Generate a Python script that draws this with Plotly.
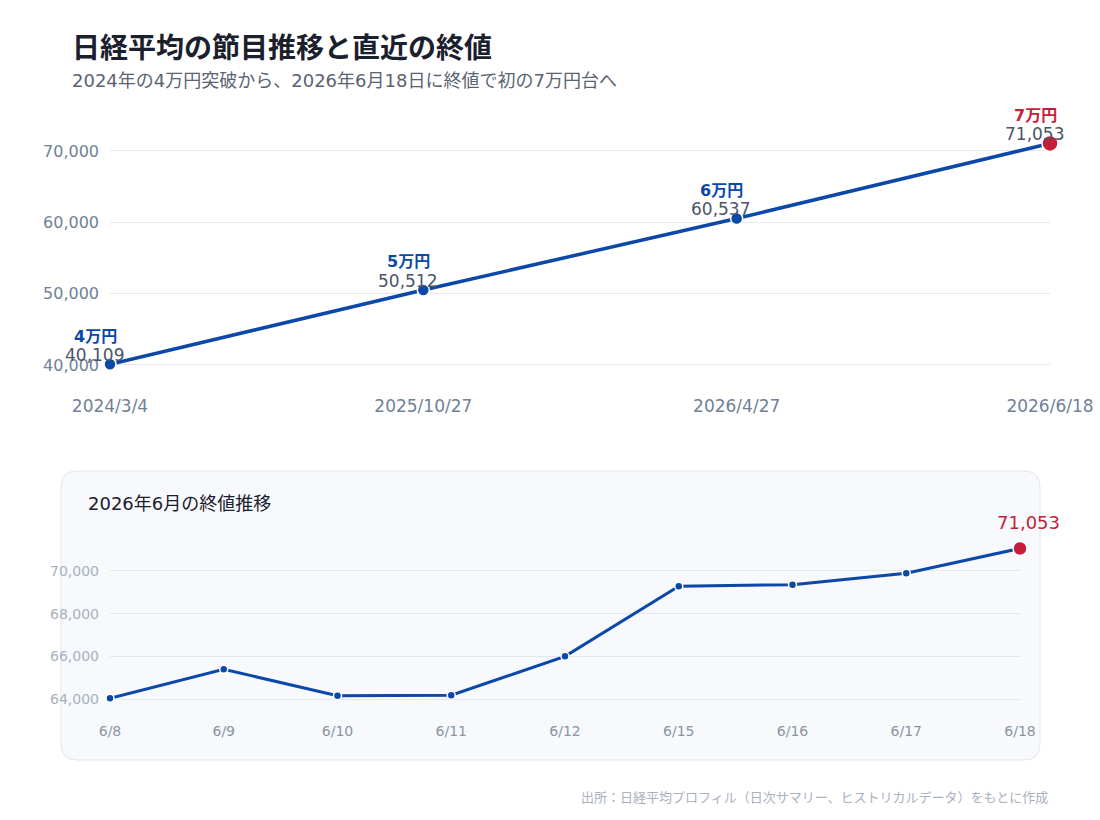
import plotly.graph_objects as go

# ---- data ----
milestone_dates = ["2024/3/4", "2025/10/27", "2026/4/27", "2026/6/18"]
milestone_values = [40109, 50512, 60537, 71053]
milestone_labels = ["4万円", "5万円", "6万円", "7万円"]

june_dates = ["6/8", "6/9", "6/10", "6/11", "6/12", "6/15", "6/16", "6/17", "6/18"]
june_values = [64047, 65400, 64170, 64190, 66010, 69285, 69360, 69890, 71053]

top_ticks = [40000, 50000, 60000, 70000]
bottom_ticks = [64000, 66000, 68000, 70000]

W, H = 1100, 820
BLUE = "#0b48a8"
RED = "#c41e3a"
FONT = "DejaVu Sans, Noto Sans CJK JP"


def px(x):
    return x / W


def py(y):
    return 1 - y / H


fig = go.Figure()

n_top = len(milestone_values)
top_colors = [BLUE] * (n_top - 1) + [RED]
top_sizes = [12] * (n_top - 1) + [16]

fig.add_trace(go.Scatter(
    x=milestone_dates, y=milestone_values, mode="lines+markers",
    line=dict(color=BLUE, width=3.5),
    marker=dict(color=top_colors, size=top_sizes, opacity=1, line=dict(color="white", width=1.5)),
    cliponaxis=False, hoverinfo="skip", xaxis="x", yaxis="y", showlegend=False,
))

n_b = len(june_values)
b_colors = [BLUE] * (n_b - 1) + [RED]
b_sizes = [8] * (n_b - 1) + [14]
fig.add_trace(go.Scatter(
    x=june_dates, y=june_values, mode="lines+markers",
    line=dict(color=BLUE, width=3),
    marker=dict(color=b_colors, size=b_sizes, opacity=1, line=dict(color="white", width=1.5)),
    cliponaxis=False, hoverinfo="skip", xaxis="x2", yaxis="y2", showlegend=False,
))

annotations = []
# milestone labels
for i, (d, v, lab) in enumerate(zip(milestone_dates, milestone_values, milestone_labels)):
    col = RED if i == n_top - 1 else BLUE
    annotations.append(dict(x=d, y=v, xref="x", yref="y", text=f"<b>{lab}</b>",
                            showarrow=False, xshift=-15, yshift=28, yanchor="middle",
                            font=dict(size=16, color=col, family=FONT)))
    annotations.append(dict(x=d, y=v, xref="x", yref="y", text=f"{v:,}",
                            showarrow=False, xshift=-16, yshift=9, yanchor="middle",
                            font=dict(size=17, color="#4a5568", family=FONT)))

annotations.append(dict(x=june_dates[-1], y=june_values[-1], xref="x2", yref="y2",
                        text=f"{june_values[-1]:,}", showarrow=False, xshift=8, yshift=26,
                        yanchor="middle", font=dict(size=18, color=RED, family=FONT)))

annotations += [
    dict(x=px(70), y=py(48), xref="paper", yref="paper", xanchor="left", yanchor="middle",
         text="<b>日経平均の節目推移と直近の終値</b>", showarrow=False,
         font=dict(size=28, color="#1a202c", family=FONT)),
    dict(x=px(70), y=py(81), xref="paper", yref="paper", xanchor="left", yanchor="middle",
         text="2024年の4万円突破から、2026年6月18日に終値で初の7万円台へ", showarrow=False,
         font=dict(size=18, color="#5a6372", family=FONT)),
    dict(x=px(86), y=py(503), xref="paper", yref="paper", xanchor="left", yanchor="middle",
         text="2026年6月の終値推移", showarrow=False,
         font=dict(size=18, color="#1a202c", family=FONT)),
    dict(x=px(1050), y=py(797), xref="paper", yref="paper", xanchor="right", yanchor="middle",
         text="出所：日経平均プロフィル（日次サマリー、ヒストリカルデータ）をもとに作成", showarrow=False,
         font=dict(size=13, color="#a9b1bd", family=FONT)),
]

# rounded panel
x0, x1, y0, y1 = px(61), px(1040), py(760), py(471)
rx, ry = 16 / W, 16 / H
path = (f"M {x0+rx},{y1} L {x1-rx},{y1} Q {x1},{y1} {x1},{y1-ry} "
        f"L {x1},{y0+ry} Q {x1},{y0} {x1-rx},{y0} L {x0+rx},{y0} "
        f"Q {x0},{y0} {x0},{y0+ry} L {x0},{y1-ry} Q {x0},{y1} {x0+rx},{y1} Z")
shapes = [dict(type="path", path=path, xref="paper", yref="paper", layer="below",
               fillcolor="#f7f9fc", line=dict(color="#e2e6ec", width=1))]

fig.update_layout(
    width=W, height=H, margin=dict(l=0, r=0, t=0, b=0, autoexpand=False),
    paper_bgcolor="white", plot_bgcolor="rgba(0,0,0,0)",
    font=dict(family=FONT),
    annotations=annotations, shapes=shapes,
    xaxis=dict(domain=[px(110), px(1050)], range=[0, 3], type="category",
               showgrid=False, zeroline=False, showline=False, ticks="", automargin=False,
               tickfont=dict(size=17, color="#718096"), anchor="y"),
    yaxis=dict(domain=[py(393.5), py(136.7)], range=[36000, 72000], automargin=False,
               tickvals=top_ticks, tickformat=",", showgrid=True, gridcolor="#e6e9ee",
               gridwidth=1, zeroline=False, showline=False, ticks="",
               ticklabelstandoff=10,
               tickfont=dict(size=16, color="#718096"), anchor="x"),
    xaxis2=dict(domain=[px(110), px(1020)], range=[0, 8], type="category", automargin=False,
                showgrid=False, zeroline=False, showline=False, ticks="",
                tickfont=dict(size=14, color="#8a94a3"), anchor="y2"),
    yaxis2=dict(domain=[py(720.7), py(528.2)], range=[63000, 72000], automargin=False,
                tickvals=bottom_ticks, tickformat=",", showgrid=True, gridcolor="#e4e7ec",
                gridwidth=1, zeroline=False, showline=False, ticks="",
                ticklabelstandoff=10,
                tickfont=dict(size=14, color="#a9b1bd"), anchor="x2"),
)

fig.write_html("out.html")
